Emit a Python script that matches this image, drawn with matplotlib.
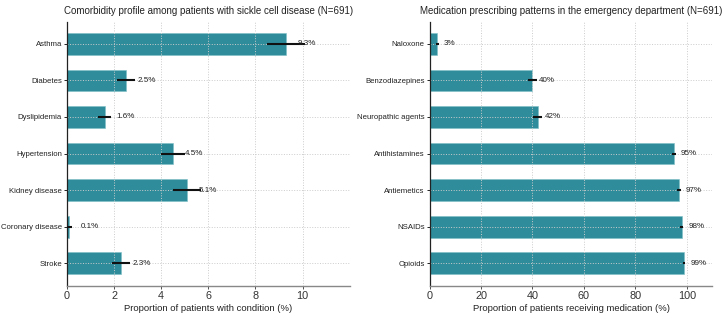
import numpy as np
import matplotlib
matplotlib.use('Agg')
import matplotlib.pyplot as plt

# Comorbidities (left panel), top to bottom
conditions = ['Asthma', 'Diabetes', 'Dyslipidemia', 'Hypertension',
              'Kidney disease', 'Coronary disease', 'Stroke']
condition_pct = [9.3, 2.5, 1.6, 4.5, 5.1, 0.1, 2.3]
condition_err = [0.8, 0.38, 0.28, 0.5, 0.6, 0.1, 0.38]

# Medications (right panel), top to bottom
medications = ['Naloxone', 'Benzodiazepines', 'Neuropathic agents',
               'Antihistamines', 'Antiemetics', 'NSAIDs', 'Opioids']
medication_pct = [3, 40, 42, 95, 97, 98, 99]
medication_err = [0.65, 1.86, 1.88, 0.83, 0.65, 0.53, 0.38]

BAR_COLOR = '#2e8c9b'

# narrow-ish font so the labels fit like in the reference
plt.rcParams['font.family'] = ['Liberation Sans', 'DejaVu Sans']


def plot_panel(ax, names, values, errs, title, xlabel, xmax, xticks, offset, fmt):
    y = np.arange(len(names))
    ax.barh(y, values, height=0.6, color=BAR_COLOR, edgecolor='#7fbfc8', linewidth=0.4)
    ax.errorbar(values, y, xerr=errs, fmt='none', ecolor='#111111', elinewidth=1.5, capsize=0,
                zorder=3)
    for yi, v in zip(y, values):
        ax.text(v + offset, yi, fmt(v), va='center', ha='left', fontsize=5.8, color='#222222')

    ax.set_yticks(y)
    ax.set_yticklabels(names, fontsize=5.6, color='#222222')
    ax.set_ylim(len(names) - 0.38, -0.6)
    ax.set_xlim(0, xmax)
    ax.set_xticks(xticks)
    ax.tick_params(axis='x', labelsize=7.8, length=2.5, width=0.6, colors='#333333', pad=1.5)
    ax.tick_params(axis='y', length=2, width=0.6, pad=1.5)
    ax.set_title(title, fontsize=7.0, color='#222222', pad=6)
    ax.set_xlabel(xlabel, fontsize=6.8, color='#222222', labelpad=2)

    ax.grid(True, axis='both', linestyle=':', color='#cccccc', linewidth=0.7)
    for side in ['top', 'right']:
        ax.spines[side].set_visible(False)
    ax.spines['left'].set_color('#222222')
    ax.spines['left'].set_linewidth(0.9)
    ax.spines['bottom'].set_color('#888888')
    ax.spines['bottom'].set_linewidth(1.0)


fig = plt.figure(figsize=(7.27, 3.15), dpi=100)
ax1 = fig.add_axes([0.092, 0.093, 0.389, 0.837])
ax2 = fig.add_axes([0.591, 0.093, 0.389, 0.837])

plot_panel(ax1, conditions, condition_pct, condition_err,
           'Comorbidity profile among patients with sickle cell disease (N=691)',
           'Proportion of patients with condition (%)', 12, [0, 2, 4, 6, 8, 10], 0.5,
           lambda v: '%.1f%%' % v)
plot_panel(ax2, medications, medication_pct, medication_err,
           'Medication prescribing patterns in the emergency department (N=691)',
           'Proportion of patients receiving medication (%)', 110, [0, 20, 40, 60, 80, 100], 2.6,
           lambda v: '%d%%' % v)

fig.savefig('out.png', dpi=100)
